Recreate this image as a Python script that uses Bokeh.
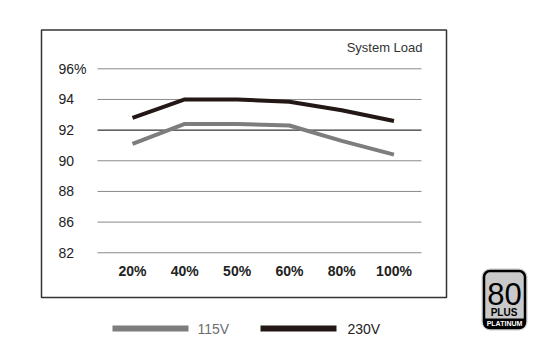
import numpy as np
from bokeh.plotting import figure
from bokeh.models import Range1d
from bokeh.core.properties import value
from bokeh.embed import file_html
from bokeh.resources import INLINE

# ---- data ----
loads = ["20%", "40%", "50%", "60%", "80%", "100%"]
eff_115 = [91.1, 92.4, 92.4, 92.3, 91.3, 90.4]
eff_230 = [92.8, 94.0, 94.0, 93.85, 93.3, 92.6]
y_tick_values = [96, 94, 92, 90, 88, 86, 82]
y_tick_labels = ["96%", "94", "92", "90", "88", "86", "82"]
series_names = ["115V", "230V"]

# axis is evenly spaced by tick slot (82 sits where 84 would be)
slot_positions = [96 - 2 * k for k in range(len(y_tick_values))]
def to_slot(v):
    return np.interp(v, y_tick_values[::-1], slot_positions[::-1])

# ---- page-to-data helpers (for layout decorations only) ----
W, H = 534, 344
OFF = 0                          # canvas origin in screenshot pixels
X0, STEP = 132.0, 52.3          # page x of first category, spacing
Y96, UNIT = 68.3, 15.33         # page y of top tick slot, px per unit
def X(px):
    return (px - X0) / STEP
def Y(py):
    return 96 - (py - Y96) / UNIT

p = figure(width=W, height=H, output_backend="svg", toolbar_location=None,
           x_range=Range1d(X(OFF), X(OFF + W)), y_range=Range1d(Y(OFF + H), Y(OFF)),
           min_border=0, min_border_left=0, min_border_right=0,
           min_border_top=0, min_border_bottom=0)
p.axis.visible = False
p.grid.visible = False
p.outline_line_color = None
p.background_fill_color = "white"
p.border_fill_color = "white"

FONT = value("Liberation Sans")

# outer box
p.quad(left=X(41), right=X(446), top=Y(29.5), bottom=Y(297),
       fill_color=None, line_color="#333333", line_width=1.5)

# grid lines
slots = [to_slot(v) for v in y_tick_values]
gcolors = ["#000000" if v == 92 else "#8a8a8a" for v in y_tick_values]
p.segment(x0=[X(97)] * len(slots), x1=[X(421)] * len(slots), y0=slots, y1=slots,
          line_color=gcolors, line_width=1)

# y tick labels
p.text(x=[X(58)] * len(slots), y=slots, text=y_tick_labels, text_font=FONT,
       text_font_size="14px", text_color="#222222", text_align="left",
       text_baseline="middle")

# x tick labels
xs = list(range(len(loads)))
p.text(x=xs, y=[Y(270)] * len(xs), text=loads, text_font=FONT,
       text_font_size="14px", text_font_style="bold", text_color="#222222",
       text_align="center", text_baseline="middle")

# System Load
p.text(x=[X(422)], y=[Y(47)], text=["System Load"], text_font=FONT,
       text_font_size="13px", text_color="#333333", text_align="right",
       text_baseline="middle")

# series
c115, c230 = "#7d7d7d", "#231815"
p.line(xs, to_slot(np.array(eff_115)), line_color=c115, line_width=4)
p.line(xs, to_slot(np.array(eff_230)), line_color=c230, line_width=4)

# legend
p.segment(x0=[X(112), X(260)], x1=[X(188), X(336)], y0=[Y(328)] * 2, y1=[Y(328)] * 2,
          line_color=[c115, c230], line_width=6)
p.text(x=[X(197), X(347)], y=[Y(328)] * 2, text=series_names, text_font=FONT,
       text_font_size="14px", text_color=["#6e6e6e", "#222222"],
       text_align="left", text_baseline="middle")

# 80 PLUS Platinum badge
p.quad(left=X(481.5), right=X(526.5), top=Y(268.5), bottom=Y(329.5),
       fill_color="#e4e4e4", line_color="#c8c8c8", line_width=1, border_radius=8)
p.quad(left=X(483.5), right=X(524.5), top=Y(270.5), bottom=Y(327.5),
       fill_color="#c9c9c9", line_color="#000000", line_width=2.5, border_radius=6)
p.quad(left=X(484.5), right=X(523.5), top=Y(318.5), bottom=Y(326.5),
       fill_color="#000000", line_color="#000000", line_width=1, border_radius=0)
p.text(x=[X(504)], y=[Y(293)], text=["80"], text_font=FONT,
       text_font_size="31px", text_color="#000000", text_align="center",
       text_baseline="middle")
p.text(x=[X(503.5)], y=[Y(312)], text=["PLUS"], text_font=FONT,
       text_font_size="10px", text_font_style="bold", text_color="#000000",
       text_align="center", text_baseline="middle")
p.text(x=[X(504)], y=[Y(322.5)], text=["PLATINUM"], text_font=FONT,
       text_font_size="7px", text_font_style="bold", text_color="#ffffff",
       text_align="center", text_baseline="middle")

open("out.html", "w").write(file_html(p, INLINE))
